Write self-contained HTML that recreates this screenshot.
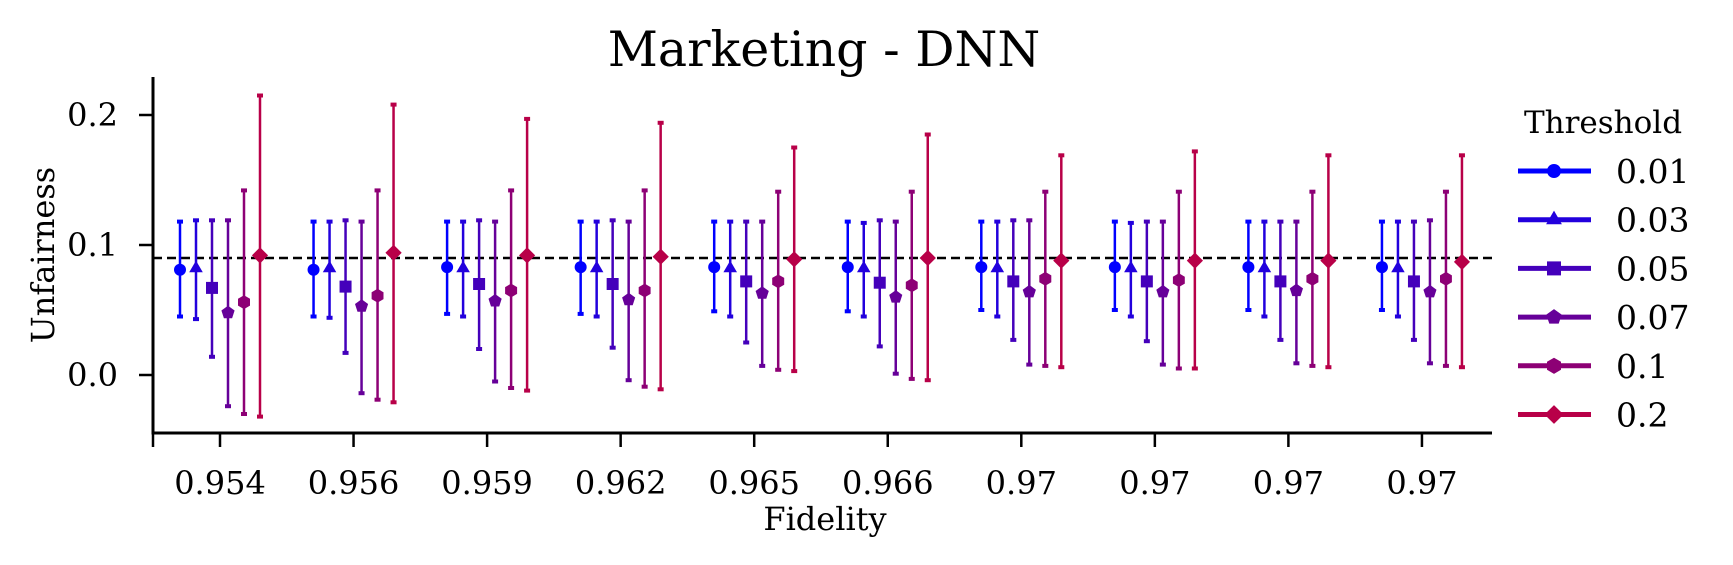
<!DOCTYPE html>
<html><head><meta charset="utf-8"><style>
html,body{margin:0;padding:0;background:#fff;}
svg{display:block;font-family:"DejaVu Serif","Liberation Serif",serif;}
</style></head><body>
<svg id="chart" width="1733" height="565" viewBox="0 0 1733 565" xmlns="http://www.w3.org/2000/svg">
<text x="824" y="66" font-size="49" text-anchor="middle">Marketing - DNN</text>
<g id="axes"></g>
<g id="marks"></g>
<g id="legend"></g>
</svg>
<script>
const categories = ["0.954","0.956","0.959","0.962","0.965","0.966","0.97","0.97","0.97","0.97"];
const thresholds = ["0.01","0.03","0.05","0.07","0.1","0.2"];
const yTicks = [0.0, 0.1, 0.2];
const refLine = 0.09;
const mean01 = [0.081,0.081,0.083,0.083,0.083,0.083,0.083,0.083,0.083,0.083];
const low01  = [0.045,0.045,0.047,0.047,0.049,0.049,0.050,0.050,0.050,0.050];
const high01 = [0.118,0.118,0.118,0.118,0.118,0.118,0.118,0.118,0.118,0.118];
const mean03 = [0.082,0.082,0.082,0.082,0.082,0.082,0.082,0.082,0.082,0.082];
const low03  = [0.043,0.044,0.045,0.045,0.045,0.045,0.045,0.045,0.045,0.045];
const high03 = [0.119,0.118,0.118,0.118,0.118,0.117,0.118,0.117,0.118,0.118];
const mean05 = [0.067,0.068,0.070,0.070,0.072,0.071,0.072,0.072,0.072,0.072];
const low05  = [0.014,0.017,0.020,0.021,0.025,0.022,0.027,0.026,0.027,0.027];
const high05 = [0.119,0.119,0.119,0.119,0.118,0.119,0.119,0.118,0.118,0.118];
const mean07 = [0.048,0.053,0.057,0.058,0.063,0.060,0.064,0.064,0.065,0.064];
const low07  = [-0.024,-0.014,-0.005,-0.004,0.007,0.001,0.008,0.008,0.009,0.009];
const high07 = [0.119,0.118,0.118,0.118,0.118,0.118,0.119,0.118,0.118,0.119];
const mean10 = [0.056,0.061,0.065,0.065,0.072,0.069,0.074,0.073,0.074,0.074];
const low10  = [-0.030,-0.019,-0.010,-0.009,0.004,-0.003,0.007,0.005,0.007,0.007];
const high10 = [0.142,0.142,0.142,0.142,0.141,0.141,0.141,0.141,0.141,0.141];
const mean20 = [0.092,0.094,0.092,0.091,0.089,0.090,0.088,0.088,0.088,0.087];
const low20  = [-0.032,-0.021,-0.012,-0.011,0.003,-0.004,0.006,0.005,0.006,0.006];
const high20 = [0.215,0.208,0.197,0.194,0.175,0.185,0.169,0.172,0.169,0.169];

const means=[mean01,mean03,mean05,mean07,mean10,mean20];
const lows=[low01,low03,low05,low07,low10,low20];
const highs=[high01,high03,high05,high07,high10,high20];
const colors=["#0000ff","#2200dd","#4400bb","#660099","#8d0075","#b80048"];
const shapes=["circle","triangle","square","pentagon","hexagon","diamond"];

const NS="http://www.w3.org/2000/svg";
const X0=153, X1=1492, Y0=77, YB=433;
function yS(v){return 375 - v*1300;}
function xS(i){return 220 + i*133.55;}
const offsets=[-40,-24,-8,8,24,40];
function mk(tag,attrs,parent){const e=document.createElementNS(NS,tag);for(const k in attrs)e.setAttribute(k,attrs[k]);parent.appendChild(e);return e;}
function marker(shape,cx,cy,r,color,parent){
  let e;
  if(shape==="circle") e=mk("circle",{cx:cx,cy:cy,r:r,fill:color},parent);
  else if(shape==="square") e=mk("rect",{x:cx-r,y:cy-r,width:2*r,height:2*r,fill:color},parent);
  else {
    let n,rot,rr=r*1.15;
    if(shape==="triangle"){n=3;rot=-Math.PI/2;rr=r*1.3;}
    else if(shape==="pentagon"){n=5;rot=-Math.PI/2;}
    else if(shape==="hexagon"){n=6;rot=-Math.PI/2;}
    else {n=4;rot=-Math.PI/2;rr=r*1.35;}
    const pts=[];for(let k=0;k<n;k++){const a=rot+k*2*Math.PI/n;pts.push((cx+rr*Math.cos(a)).toFixed(1)+","+(cy+rr*Math.sin(a)).toFixed(1));}
    e=mk("polygon",{points:pts.join(" "),fill:color},parent);
  }
  return e;
}
const axes=document.getElementById("axes");
let l=mk("line",{x1:X0,y1:Y0,x2:X0,y2:YB+1.5,stroke:"#000","stroke-width":3},axes);


l=mk("line",{x1:X0-1.5,y1:YB,x2:X1,y2:YB,stroke:"#000","stroke-width":3},axes);


mk("line",{x1:X0,y1:YB,x2:X0,y2:YB+14,stroke:"#000","stroke-width":2.5},axes);
yTicks.forEach(v=>{
  const y=yS(v);
  mk("line",{x1:X0-14,y1:y,x2:X0,y2:y,stroke:"#000","stroke-width":2.5},axes);
  const t=mk("text",{x:118,y:y+11,"font-size":32,"text-anchor":"end"},axes);
  t.textContent=v.toFixed(1);
  
  
});
categories.forEach((c,i)=>{
  const x=xS(i);
  mk("line",{x1:x,y1:YB,x2:x,y2:YB+14,stroke:"#000","stroke-width":2.5},axes);
  const t=mk("text",{x:x,y:494,"font-size":32,"text-anchor":"middle"},axes);
  t.textContent=c;
  
  
});
let t=mk("text",{x:825,y:530,"font-size":32,"text-anchor":"middle"},axes);
t.textContent="Fidelity";


t=mk("text",{x:0,y:0,"font-size":32,"text-anchor":"middle",transform:"translate(54,255) rotate(-90)"},axes);
t.textContent="Unfairness";


l=mk("line",{x1:X0,y1:yS(refLine),x2:X1,y2:yS(refLine),stroke:"#000","stroke-width":2.5,"stroke-dasharray":"9,5"},axes);



const marks=document.getElementById("marks");
for(let s=0;s<6;s++){
  const g=mk("g",{},marks);
  
  
  categories.forEach((c,i)=>{
    const x=xS(i)+offsets[s], col=colors[s];
    const yh=yS(highs[s][i]), yl=yS(lows[s][i]);
    const b=mk("line",{x1:x,y1:yh,x2:x,y2:yl,stroke:col,"stroke-width":2.5},g);
    
    
    mk("rect",{x:x-3,y:yh-2,width:6,height:4,fill:col},g);
    mk("rect",{x:x-3,y:yl-2,width:6,height:4,fill:col},g);
    const m=marker(shapes[s],x,yS(means[s][i]),6,col,g);
    
    
  });
}
const leg=document.getElementById("legend");
t=mk("text",{x:1603,y:133,"font-size":31,"text-anchor":"middle"},leg);
t.textContent="Threshold";


thresholds.forEach((th,s)=>{
  const y=171+s*48.7;
  const g=mk("g",{},leg);
  
  
  mk("line",{x1:1518,y1:y,x2:1591,y2:y,stroke:colors[s],"stroke-width":5},g);
  marker(shapes[s],1554,y,7,colors[s],g);
  const tt=mk("text",{x:1616,y:y+12,"font-size":33},g);
  tt.textContent=th;
});
</script>
</body></html>
